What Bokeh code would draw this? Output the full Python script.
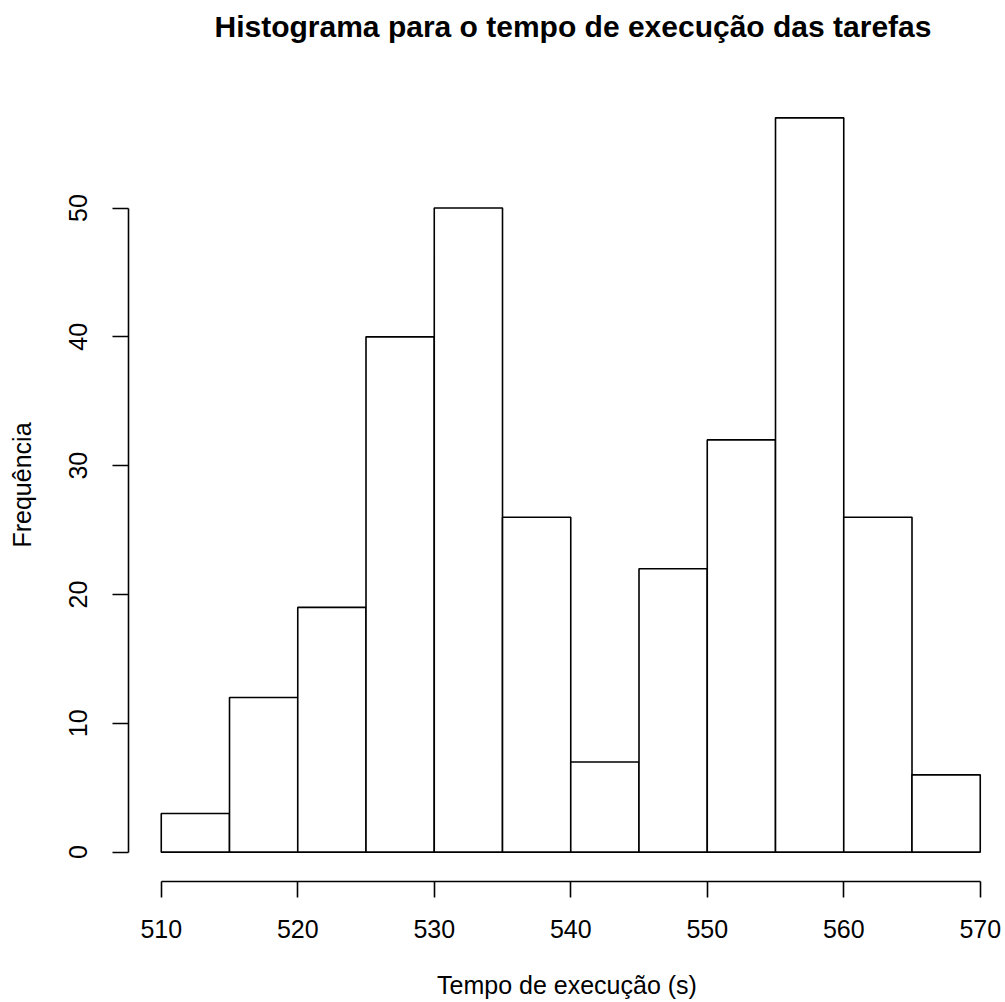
from bokeh.plotting import figure
from bokeh.models import FixedTicker, Range1d, LinearAxis
from bokeh.embed import file_html
from bokeh.resources import INLINE

# Histogram data (bin edges and counts)
breaks = [510, 515, 520, 525, 530, 535, 540, 545, 550, 555, 560, 565, 570]
counts = [3, 12, 19, 40, 50, 26, 7, 22, 32, 57, 26, 6]
x_ticks = [510, 520, 530, 540, 550, 560, 570]
y_ticks = [0, 10, 20, 30, 40, 50]
title_text = "Histograma para o tempo de execução das tarefas"
x_label = "Tempo de execução (s)"
y_label = "Frequência"

FONT = "Liberation Sans"
W, H = 1005, 1002
BL, BR, BT, BB = 128, 0, 88, 121

# R-style ranges: 4% padding around the data
x0, x1 = 507.6, 571.85
y0, y1 = -2.28, 59.28

p = figure(width=W, height=H, output_backend="svg", toolbar_location=None,
           x_range=Range1d(x0, x1), y_range=Range1d(y0, y1),
           min_border_left=BL, min_border_right=BR, min_border_top=BT, min_border_bottom=BB,
           title=title_text)

p.quad(left=breaks[:-1], right=breaks[1:], top=counts, bottom=0,
       fill_color="white", line_color="black", line_width=1.6)

p.outline_line_color = None
p.grid.visible = False
p.background_fill_color = "white"
p.border_fill_color = "white"

xa = p.below[0]
ya = p.left[0]

xa.ticker = FixedTicker(ticks=x_ticks)
xa.bounds = (breaks[0], breaks[-1])
xa.axis_label = x_label
ya.ticker = FixedTicker(ticks=y_ticks)
ya.bounds = (0, 50)
ya.axis_label = y_label
ya.major_label_orientation = "vertical"

for ax in (xa, ya):
    ax.major_tick_out = 16
    ax.major_tick_in = 0
    ax.minor_tick_out = 0
    ax.minor_tick_in = 0
    ax.axis_line_width = 1.6
    ax.major_tick_line_width = 1.6
    ax.axis_line_color = "black"
    ax.major_tick_line_color = "black"
    ax.major_label_text_font = FONT
    ax.major_label_text_font_size = "25px"
    ax.major_label_text_color = "black"
    ax.axis_label_text_font = FONT
    ax.axis_label_text_font_size = "25px"
    ax.axis_label_text_font_style = "normal"
    ax.axis_label_text_color = "black"

xa.major_label_standoff = 22
xa.axis_label_standoff = 30
ya.major_label_standoff = 25
ya.axis_label_standoff = 31

# invisible spacer axis above the frame so the title sits high like R's main title
mid = (breaks[0] + breaks[-1]) / 2
spacer = LinearAxis(ticker=FixedTicker(ticks=[mid]), axis_line_color=None,
                    major_tick_line_color=None, minor_tick_line_color=None,
                    major_tick_out=46, major_tick_in=0, minor_tick_out=0, minor_tick_in=0,
                    major_label_standoff=0, major_label_overrides={mid: ""})
p.add_layout(spacer, "above")

p.title.text_font = FONT
p.title.text_font_size = "30px"
p.title.text_font_style = "bold"
p.title.align = "left"
p.title.offset = 86
p.title.standoff = 0
p.title.text_color = "black"

open("out.html", "w").write(file_html(p, INLINE))
